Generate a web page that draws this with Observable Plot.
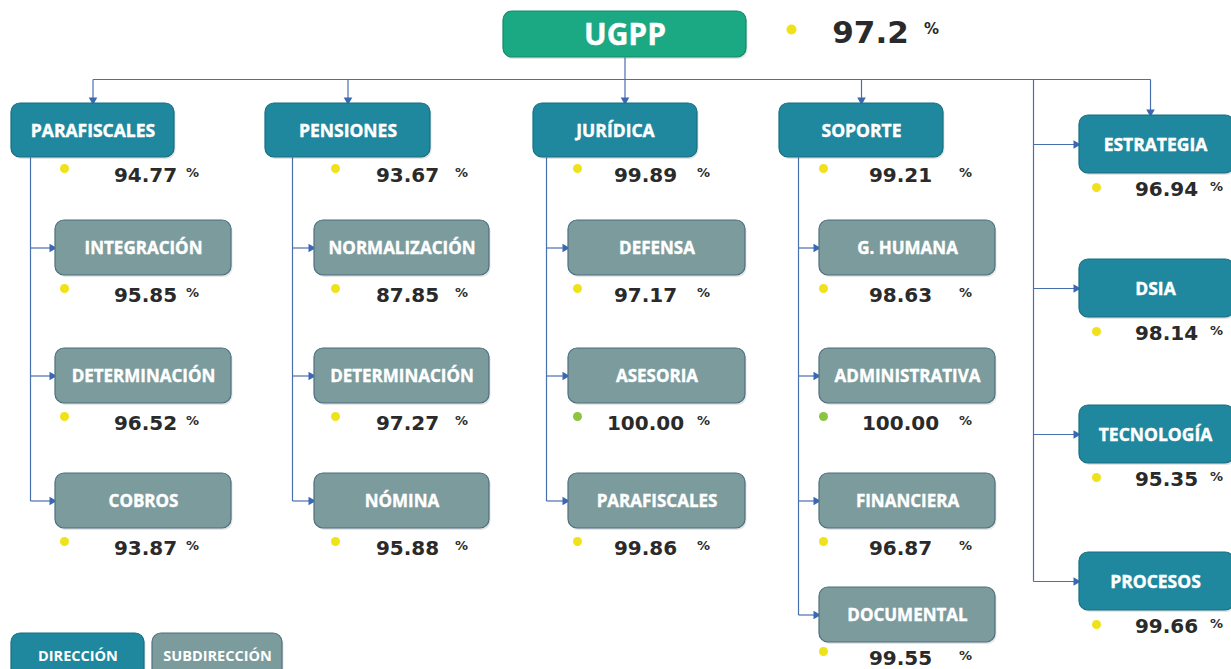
<!DOCTYPE html>
<html><head><meta charset="utf-8">
<script src="https://cdn.jsdelivr.net/npm/d3@7"></script>
<script src="https://cdn.jsdelivr.net/npm/@observablehq/plot@0.6"></script>
<style>html,body{margin:0;padding:0;background:#fff;overflow:hidden}</style>
</head><body><div id="chart"></div>
<script>
// ---------- DATA ----------
const rootName = "UGPP";
const rootValue = 97.2;
const directions = ["PARAFISCALES", "PENSIONES", "JURÍDICA", "SOPORTE"];
const directionValues = [94.77, 93.67, 99.89, 99.21];
const subdirections = ["INTEGRACIÓN", "DETERMINACIÓN", "COBROS",
  "NORMALIZACIÓN", "DETERMINACIÓN", "NÓMINA",
  "DEFENSA", "ASESORIA", "PARAFISCALES",
  "G. HUMANA", "ADMINISTRATIVA", "FINANCIERA", "DOCUMENTAL"];
const subdirectionParents = ["PARAFISCALES", "PARAFISCALES", "PARAFISCALES",
  "PENSIONES", "PENSIONES", "PENSIONES",
  "JURÍDICA", "JURÍDICA", "JURÍDICA",
  "SOPORTE", "SOPORTE", "SOPORTE", "SOPORTE"];
const subdirectionValues = [95.85, 96.52, 93.87, 87.85, 97.27, 95.88, 97.17, 100.00, 99.86, 98.63, 100.00, 96.87, 99.55];
const staffUnits = ["ESTRATEGIA", "DSIA", "TECNOLOGÍA", "PROCESOS"];
const staffValues = [96.94, 98.14, 95.35, 99.66];
const legendLabels = ["DIRECCIÓN", "SUBDIRECCIÓN"];

// ---------- LAYOUT ----------
const W = 1231, H = 669;
const C = {root: "#1aa982", rootStroke: "#138a69", dir: "#1f889e", dirStroke: "#176f82",
  sub: "#7b9b9d", subStroke: "#4f6f7e", line: "#4a6fae", head: "#3b67b5",
  yellow: "#f0e21a", green: "#8cc540", text: "#2a2a2a"};
const rootBox = [503, 746, 11, 57];
const busY = 79;
const dirX = [[11, 174], [265, 430], [533, 697], [779, 943]];
const dirY = [103, 157];
const subX = [[55, 231], [314, 489], [568, 745], [819, 995]];
const subTop = [220, 348, 473, 587], subH = 55;
const branchX = [30, 292, 546, 798];
const dotX = [64, 335, 577, 823];
const numX = [145, 407, 645, 900];
const pctX = [192, 461, 703, 965];
const staffX = [1079, 1234], staffTop = [115, 259, 405, 552], staffH = 58;
const staffBranch = 1033, staffTopArrowX = 1150, staffDot = 1096, staffNum = 1166, staffPct = 1216;

const boxes = [], links = [], heads = [], vals = [];
const rootCx = (rootBox[0] + rootBox[1]) / 2;
boxes.push({x1: rootBox[0], x2: rootBox[1], y1: rootBox[2], y2: rootBox[3], label: rootName, kind: "root"});
const rootVal = [{dx: 791, dy: 29, nx: 870, ny: 33, px: 931, py: 29, v: rootValue, txt: rootValue.toFixed(1)}];
links.push({x1: rootCx, y1: rootBox[3], x2: rootCx, y2: busY});

const topArrows = [];
directions.forEach((d, i) => {
  const [x1, x2] = dirX[i];
  boxes.push({x1, x2, y1: dirY[0], y2: dirY[1], label: d, kind: "dir"});
  const ax = (rootCx > x1 && rootCx < x2) ? rootCx : (x1 + x2) / 2;
  topArrows.push(ax);
  links.push({x1: ax, y1: busY, x2: ax, y2: dirY[0] - 2});
  heads.push({x: ax, y: dirY[0] - 3.5, rot: 180});
  vals.push({dx: dotX[i], dy: dirY[1] + 11, nx: numX[i], ny: dirY[1] + 18, px: pctX[i], py: dirY[1] + 15, v: directionValues[i]});
  const kids = subdirections.map((s, j) => ({s, j})).filter(o => subdirectionParents[o.j] === d);
  let lastY = dirY[1];
  kids.forEach((o, r) => {
    const [sx1, sx2] = subX[i];
    const y1 = subTop[r], y2 = subTop[r] + subH, cy = (y1 + y2) / 2;
    boxes.push({x1: sx1, x2: sx2, y1, y2, label: o.s, kind: "sub"});
    links.push({x1: branchX[i], y1: cy, x2: sx1 - 2, y2: cy});
    heads.push({x: sx1 - 3.5, y: cy, rot: 90});
    lastY = cy;
    const ny = Math.min(y2 + 20, H - 11);
    vals.push({dx: dotX[i], dy: ny - 7, nx: numX[i], ny, px: pctX[i], py: ny - 3, v: subdirectionValues[o.j]});
  });
  links.push({x1: branchX[i], y1: dirY[1], x2: branchX[i], y2: lastY});
});
staffUnits.forEach((s, r) => {
  const y1 = staffTop[r], y2 = y1 + staffH, cy = (y1 + y2) / 2;
  boxes.push({x1: staffX[0], x2: staffX[1], y1, y2, label: s, kind: "dir"});
  links.push({x1: staffBranch, y1: cy, x2: staffX[0] - 2, y2: cy});
  heads.push({x: staffX[0] - 3.5, y: cy, rot: 90});
  vals.push({dx: staffDot, dy: y2 + 14, nx: staffNum, ny: y2 + 16, px: staffPct, py: y2 + 13, v: staffValues[r]});
});
links.push({x1: staffBranch, y1: busY, x2: staffBranch, y2: (staffTop[3] * 2 + staffH) / 2});
links.push({x1: staffTopArrowX, y1: busY, x2: staffTopArrowX, y2: staffTop[0] - 2});
heads.push({x: staffTopArrowX, y: staffTop[0] - 3.5, rot: 180});
links.push({x1: topArrows[0], y1: busY, x2: staffTopArrowX, y2: busY});

const legend = legendLabels.map((l, i) => ({label: l, kind: i === 0 ? "dir" : "sub",
  x1: i === 0 ? 11 : 152, x2: i === 0 ? 144 : 282, y1: 633, y2: 680}));

const fillOf = k => k === "root" ? C.root : k === "dir" ? C.dir : C.sub;
const strokeOf = k => k === "root" ? C.rootStroke : k === "dir" ? C.dirStroke : C.subStroke;
vals.forEach(v => { v.txt = v.v.toFixed(2); });

const chart = Plot.plot({
  width: W, height: H, margin: 0,
  x: {domain: [0, W], range: [0, W], axis: null},
  y: {domain: [0, H], range: [0, H], axis: null},
  style: {background: "#fff", overflow: "hidden"},
  marks: [
    Plot.link(links, {x1: "x1", y1: "y1", x2: "x2", y2: "y2", stroke: C.line, strokeWidth: 1.2}),
    Plot.dot(heads, {x: "x", y: "y", symbol: "triangle", rotate: "rot", r: 3.2, fill: C.head, stroke: "none"}),
    Plot.rect(boxes.concat(legend), {x1: d => d.x1 + 1.5, x2: d => d.x2 + 1.5, y1: d => d.y1 + 2, y2: d => d.y2 + 2, rx: 9, fill: "#000", fillOpacity: 0.1}),
    Plot.rect(boxes.concat(legend), {x1: "x1", x2: "x2", y1: "y1", y2: "y2", rx: 9,
      fill: d => fillOf(d.kind), stroke: d => strokeOf(d.kind), strokeWidth: 1.2}),
    Plot.text(boxes, {x: d => (d.x1 + Math.min(d.x2, W)) / 2, y: d => (d.y1 + d.y2) / 2 + 1, text: "label",
      fill: "#fff", fontFamily: "Open Sans", fontWeight: 700, stroke: "#fff", strokeWidth: 0.4,
      fontSize: d => d.kind === "root" ? 30 : d.kind === "dir" ? 17.5 : 17}),
    Plot.text(legend, {x: d => (d.x1 + d.x2) / 2, y: 656, text: "label", fill: "#fff",
      fontFamily: "Open Sans", fontWeight: 700, fontSize: 14.5}),
    Plot.dot(vals, {x: "dx", y: "dy", r: 4.5, fill: d => d.v >= 100 ? C.green : C.yellow, stroke: "none"}),
    Plot.text(vals, {x: "nx", y: "ny", text: "txt", fill: C.text, fontFamily: "DejaVu Sans", fontWeight: 700, fontSize: 20}),
    Plot.text(vals, {x: "px", y: "py", text: () => "%", fill: C.text, fontFamily: "DejaVu Sans", fontWeight: 700, fontSize: 13}),
    Plot.dot(rootVal, {x: "dx", y: "dy", r: 5, fill: C.yellow, stroke: "none"}),
    Plot.text(rootVal, {x: "nx", y: "ny", text: "txt", fill: C.text, fontFamily: "DejaVu Sans", fontWeight: 700, fontSize: 31}),
    Plot.text(rootVal, {x: "px", y: "py", text: () => "%", fill: C.text, fontFamily: "DejaVu Sans", fontWeight: 700, fontSize: 15})
  ]
});
document.getElementById("chart").appendChild(chart);
</script>
</body></html>
